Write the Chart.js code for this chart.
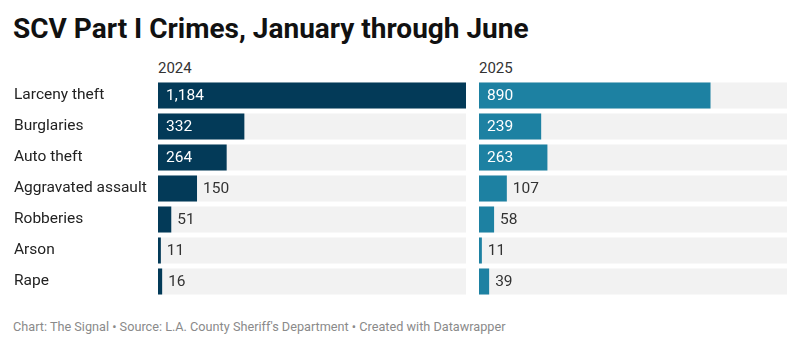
<!DOCTYPE html>
<html>
<head>
<meta charset="utf-8">
<script src="https://cdn.jsdelivr.net/npm/chart.js@4"></script>
<style>
  body { margin: 0; background: #fff; font-family: Roboto, sans-serif; }
  .abs { position: absolute; }
  #title { left: 13px; top: 12px; font-size: 28px; font-weight: 700; color: #111; white-space: nowrap; }
  .year { top: 59px; font-size: 15px; color: #333; }
  #footer { left: 13px; top: 319px; font-size: 12.7px; color: #8a8a8a; white-space: nowrap; }
</style>
</head>
<body>
<div id="title" class="abs">SCV Part I Crimes, January through June</div>
<div class="abs year" style="left:158px">2024</div>
<div class="abs year" style="left:479px">2025</div>
<canvas id="c2024" class="abs" style="left:14px; top:70px" width="452" height="237"></canvas>
<canvas id="c2025" class="abs" style="left:479px; top:70px" width="308" height="237"></canvas>
<div id="footer" class="abs">Chart: The Signal • Source: L.A. County Sheriff's Department • Created with Datawrapper</div>
<script>
var categories = ['Larceny theft', 'Burglaries', 'Auto theft', 'Aggravated assault', 'Robberies', 'Arson', 'Rape'];
var values2024 = [1184, 332, 264, 150, 51, 11, 16];
var values2025 = [890, 239, 263, 107, 58, 11, 39];
var maxValue = 1184;

var font = { family: 'Roboto', size: 15.5 };

// value labels: inside the bar in white if it fits, otherwise just after it
const valueLabels = {
    id: 'valueLabels',
    afterDatasetsDraw(chart) {
        const ctx = chart.ctx;
        const meta = chart.getDatasetMeta(1);
        const data = chart.data.datasets[1].data;
        ctx.save();
        ctx.font = '15.5px Roboto';
        ctx.textBaseline = 'middle';
        ctx.textAlign = 'left';
        meta.data.forEach((bar, i) => {
            const text = data[i].toLocaleString('en-US');
            const w = ctx.measureText(text).width;
            const barW = bar.x - bar.base;
            if (barW > w + 16) {
                ctx.fillStyle = '#ffffff';
                ctx.fillText(text, bar.base + 8, bar.y + 1);
            } else {
                ctx.fillStyle = '#333333';
                ctx.fillText(text, bar.x + 6, bar.y + 1);
            }
        });
        ctx.restore();
    }
};

function makeChart(id, values, color, showLabels) {
    const ctx = document.getElementById(id).getContext('2d');
    return new Chart(ctx, {
        type: 'bar',
        data: {
            labels: categories,
            datasets: [{
                data: categories.map(() => maxValue),
                backgroundColor: '#f2f2f2',
                grouped: false,
                order: 2
            }, {
                data: values,
                backgroundColor: color,
                grouped: false,
                order: 1
            }]
        },
        options: {
            indexAxis: 'y',
            responsive: false,
            animation: false,
            layout: { padding: { top: 10, bottom: 10, left: 0, right: 0 } },
            barPercentage: 1,
            categoryPercentage: 26 / 31,
            scales: {
                x: { display: false, min: 0, max: maxValue },
                y: {
                    display: showLabels,
                    grid: { display: false },
                    border: { display: false },
                    afterFit: scale => { if (showLabels) scale.width = 144; },
                    ticks: {
                        crossAlign: 'far',
                        padding: 0,
                        color: '#222',
                        font: font
                    }
                }
            },
            plugins: {
                legend: { display: false },
                tooltip: { enabled: false }
            }
        },
        plugins: [valueLabels]
    });
}

var charts = [];
charts.push(makeChart('c2024', values2024, '#033a58', true));
charts.push(makeChart('c2025', values2025, '#1d81a2', false));
</script>
</body>
</html>
